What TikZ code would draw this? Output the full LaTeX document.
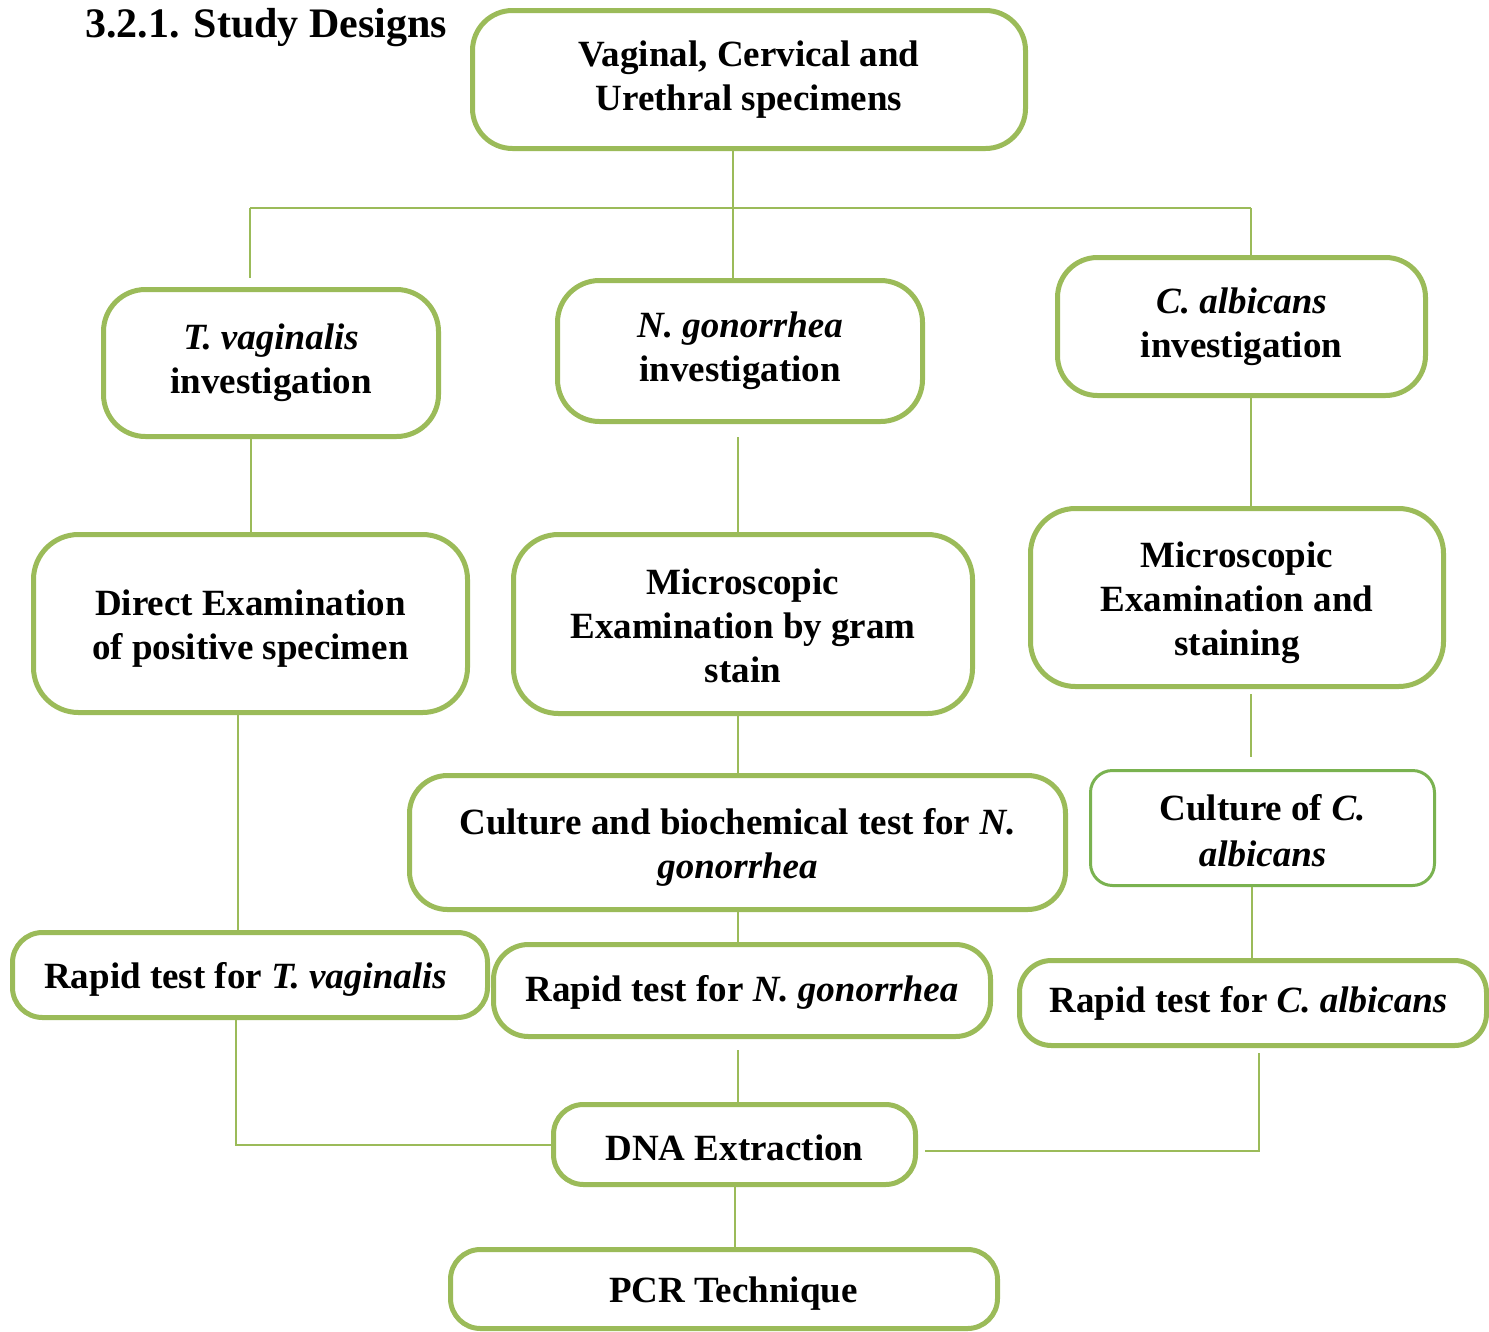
\documentclass[tikz,border=0pt]{standalone}
\usepackage{fontspec}
\setmainfont{Liberation Serif}
\usetikzlibrary{calc}
\definecolor{boxgreen}{RGB}{155,187,89}
\definecolor{boxgreentwo}{RGB}{122,178,80}
\newcommand{\tdn}[1]{\rule{0pt}{#1pt}}
\begin{document}
\begin{tikzpicture}[x=1pt,y=-1pt,
  box/.style={draw=boxgreen, line width=5pt, rounded corners=38pt, align=center,
    font=\bfseries\fontsize{37}{44}\selectfont, inner sep=0pt},
  conn/.style={draw=boxgreen, line width=2pt}]
\useasboundingbox (0,0) rectangle (1489,1331);

\node[anchor=base west, font=\bfseries\fontsize{42}{48}\selectfont, inner sep=0pt] (title) at (85,37) {3.2.1. Study Designs};

\node[box, minimum width=553pt, minimum height=138pt, rounded corners=40pt] (A) at (749,79.5) {Vaginal, Cervical and\\Urethral specimens};
\node[box, minimum width=335pt, minimum height=147pt, rounded corners=42pt] (B) at (271,363) {\textit{T. vaginalis}\\investigation};
\node[box, minimum width=365pt, minimum height=141pt, rounded corners=42pt] (C) at (740,351) {\textit{N. gonorrhea}\\investigation};
\node[box, minimum width=368pt, minimum height=138pt, rounded corners=40pt] (D) at (1241.5,326.5) {\textit{C. albicans}\\investigation};
\node[box, minimum width=434pt, minimum height=178pt, rounded corners=45pt] (E) at (250.5,623.5) {\tdn{35.5}Direct Examination\\of positive specimen};
\node[box, minimum width=459pt, minimum height=179pt, rounded corners=45pt] (F) at (743,624) {\tdn{30}Microscopic\\Examination by gram\\stain};
\node[box, minimum width=413pt, minimum height=178pt, rounded corners=45pt] (G) at (1237,597.5) {\tdn{36}Microscopic\\Examination and\\staining};
\node[box, minimum width=656pt, minimum height=134pt, rounded corners=38pt] (H) at (737.5,842.5) {\tdn{35.5}Culture and biochemical test for \textit{N.}\\\textit{gonorrhea}};
\node[box, draw=boxgreentwo, line width=3pt, minimum width=344pt, minimum height=115pt, rounded corners=22pt,
      font=\bfseries\fontsize{37}{46}\selectfont] (I) at (1262.5,828) {\tdn{31.5}Culture of \textit{C.}\\\textit{albicans}};
\node[box, minimum width=475pt, minimum height=85pt, rounded corners=30pt] (J) at (250,975) {\tdn{35.5}Rapid test for \textit{T. vaginalis}\hspace*{9pt}};
\node[box, minimum width=497pt, minimum height=92pt, rounded corners=35pt] (K) at (742,990.5) {\tdn{29.5}Rapid test for \textit{N. gonorrhea}};
\node[box, minimum width=467pt, minimum height=85pt, rounded corners=32pt] (L) at (1253,1003) {Rapid test for \textit{C. albicans}\hspace*{9pt}};
\node[box, minimum width=362pt, minimum height=80pt, rounded corners=30pt] (M) at (734.5,1144.5) {\tdn{31.5}DNA Extraction};
\node[box, minimum width=547pt, minimum height=79pt, rounded corners=30pt] (N) at (724,1289) {\tdn{35.5}\hspace*{19pt}PCR Technique};

\coordinate (busL) at (250,208);
\coordinate (busM) at (733,208);
\coordinate (busR) at (1251,208);
\coordinate (colR) at (1251,0);
\coordinate (colL) at (238,0);

\draw[conn] (A.south -| busM) -- (busM);
\draw[conn] (busL) -- (busR);
\draw[conn] (busL) -- ($(busL)+(0,70)$);
\draw[conn] (busM) -- (C.north -| busM);
\draw[conn] (busR) -- (D.north -| busR);
\draw[conn] (B.south -| E.north) -- (E.north);
\draw[conn] ($(C.south -| F.north)+(-5,13)$) -- ($(F.north)+(-5,0)$);
\draw[conn] (D.south -| colR) -- (G.north -| colR);
\draw[conn] (E.south -| colL) -- (J.north -| colL);
\draw[conn] (F.south -| H.north) -- (H.north);
\draw[conn] ($(G.south -| colR)+(0,5)$) -- ($(I.north -| colR)+(0,-12)$);
\draw[conn] ($(I.south -| colR)+(1,0)$) -- ($(L.north -| colR)+(1,0)$);
\draw[conn] (H.south) -- (K.north -| H.south);
\draw[conn] ($(J.south)+(-14,0)$) |- (M.west);
\draw[conn] ($(K.south -| M.north)+(3,11)$) -- ($(M.north)+(3,0)$);
\draw[conn] ($(L.south)+(6,5)$) |- ($(M.east)+(7,6)$);
\draw[conn] (M.south) -- (N.north -| M.south);
\end{tikzpicture}
\end{document}
